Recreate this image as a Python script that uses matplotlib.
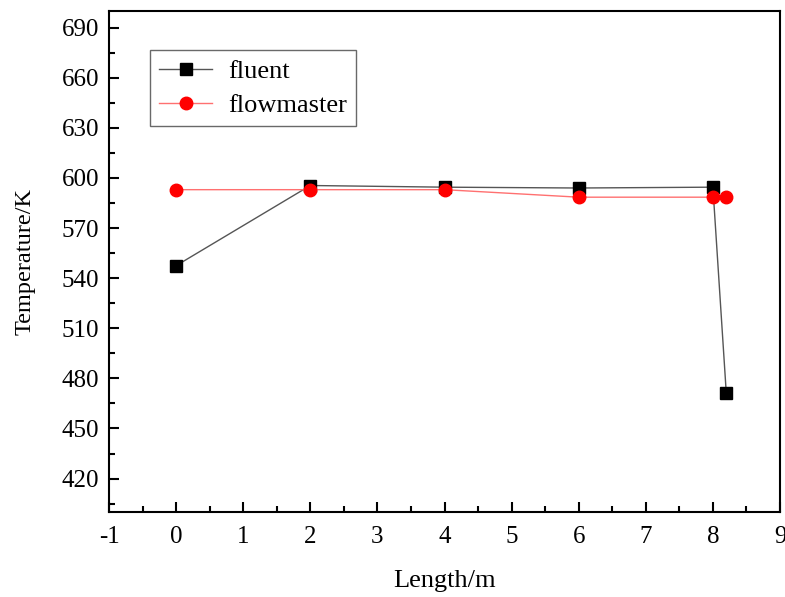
import matplotlib
matplotlib.use("Agg")
import matplotlib.pyplot as plt
from matplotlib.ticker import MultipleLocator

plt.rcParams['font.family'] = ['Liberation Serif', 'DejaVu Serif']
plt.rcParams['axes.unicode_minus'] = False

# data
fluent_x = [0, 2, 4, 6, 8, 8.2]
fluent_y = [547.5, 595.5, 594.5, 594, 594.5, 471]
flowmaster_x = [0, 2, 4, 6, 8, 8.2]
flowmaster_y = [593, 593, 593, 588.5, 588.5, 588.5]

fig = plt.figure(figsize=(7.85, 5.97), dpi=100)
ax = fig.add_axes([0.1389, 0.1424, 0.8547, 0.8392])

ax.plot(fluent_x, fluent_y, color='#555555', lw=1, marker='s', ms=8,
        mfc='black', mec='black', label='fluent')
ax.plot(flowmaster_x, flowmaster_y, color='#ff7070', lw=1, marker='o', ms=9,
        mfc='red', mec='red', label='flowmaster')

ax.set_xlim(-1, 9)
ax.set_ylim(400, 700)
ax.xaxis.set_major_locator(MultipleLocator(1))
ax.xaxis.set_minor_locator(MultipleLocator(0.5))
ax.set_yticks(range(420, 700, 30))
ax.yaxis.set_minor_locator(MultipleLocator(15))

ax.tick_params(which='both', direction='in', top=False, right=False,
               labelsize=18, width=1.5)
ax.tick_params(which='major', length=7)
ax.tick_params(which='minor', length=4)
ax.tick_params(axis='x', pad=10)
ax.tick_params(axis='y', pad=7)
for s in ax.spines.values():
    s.set_linewidth(1.5)

ax.set_xlabel('Length/m', fontsize=19, labelpad=16)
ax.set_ylabel('Temperature/K', fontsize=17.5, labelpad=19)

leg = ax.legend(loc='upper left', bbox_to_anchor=(0.061, 0.922), fontsize=19,
                frameon=True, fancybox=False, edgecolor='#444444',
                handlelength=2.0, handletextpad=0.6, borderpad=0.35,
                labelspacing=0.4, borderaxespad=0)
leg.get_frame().set_linewidth(1)

fig.savefig('out.png', dpi=100)
